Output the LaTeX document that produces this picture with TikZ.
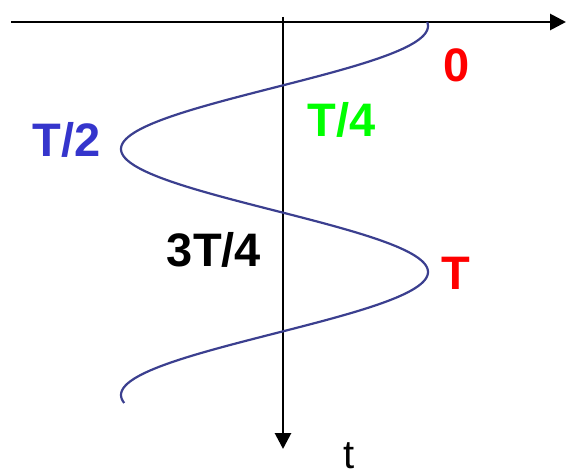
\documentclass[tikz,border=0pt]{standalone}
\usepackage{fontspec}
\setmainfont{Liberation Sans}
\usetikzlibrary{arrows.meta}
\definecolor{curveblue}{HTML}{3B3F8F}
\definecolor{lblblue}{HTML}{3535CC}
\definecolor{lblgreen}{HTML}{00FF00}
\definecolor{lblred}{HTML}{FF0000}
\tikzset{
  axis/.style={line width=2.8pt, -{Triangle[length=16pt,width=16pt]}},
  wave/.style={curveblue, line width=2.2pt},
  lbl/.style={font=\fontsize{47}{47}\selectfont\bfseries, inner sep=0pt, anchor=center},
}
\begin{document}
\begin{tikzpicture}[x=1pt,y=-1pt]
\useasboundingbox (0,0) rectangle (566,476);
\coordinate (hs) at (11,22);
\coordinate (he) at (566,22);
\coordinate (vs) at (283,17);
\coordinate (ve) at (283,449);
\draw[axis] (hs) -- (he);
\draw[axis] (vs) -- (ve);
\draw[wave] plot[domain=22:403, samples=200, variable=\y] ({274.5+153.5*cos(1.463415*(\y-26))}, \y);
\node[lbl, text=lblred] (zero) at (457,65) {0};
\node[lbl, text=lblgreen] (tq) at (341.5,120) {T/4};
\node[lbl, text=lblblue] (th) at (66.5,140) {T/2};
\node[lbl, text=black] (ttq) at (214,250) {3T/4};
\node[lbl, text=lblred] (tt) at (455.5,273) {T};
\node[font=\fontsize{40}{40}\selectfont, inner sep=0pt, anchor=base] (t) at (349,468) {t};
\end{tikzpicture}
\end{document}
